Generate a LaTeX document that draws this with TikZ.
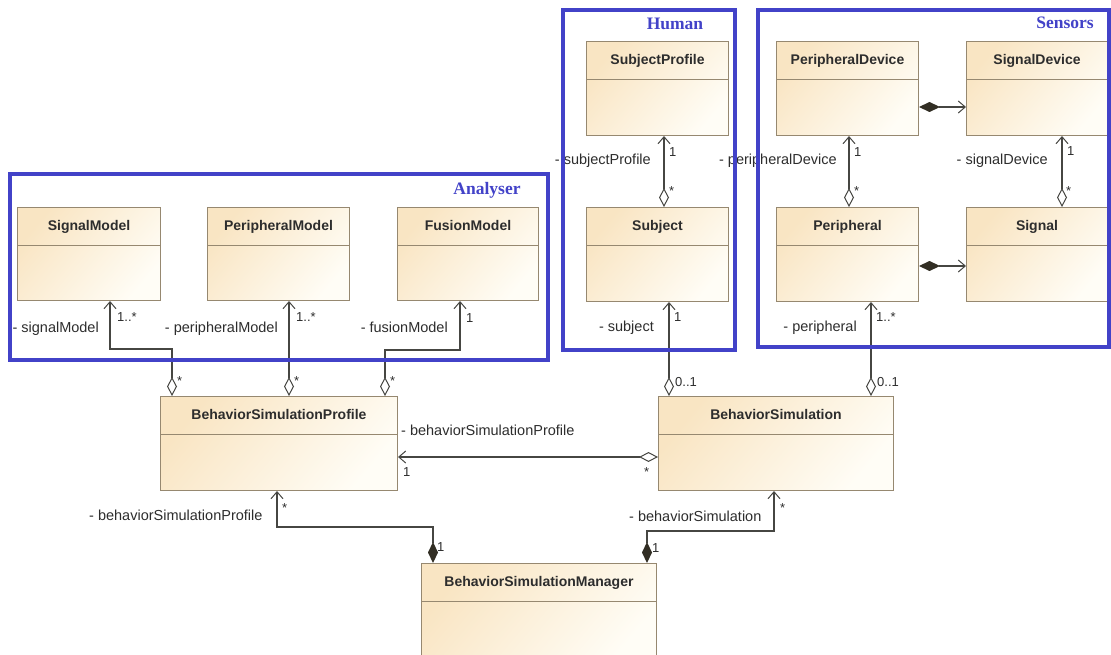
\documentclass[tikz,border=0pt]{standalone}
\usepackage{fontspec}
\setmainfont{Liberation Sans}
\newfontfamily\pkgfont{Liberation Serif}
\usetikzlibrary{arrows.meta,calc}
\definecolor{pkgblue}{RGB}{66,66,200}
\definecolor{boxtan}{RGB}{249,229,195}
\definecolor{boxlight}{RGB}{255,253,246}
\definecolor{boxedge}{RGB}{150,136,112}
\definecolor{lineclr}{RGB}{70,70,66}
\definecolor{txt}{RGB}{45,45,45}
\definecolor{compfill}{RGB}{50,46,36}
\newcommand\umlclass[6]{%
  \node[classbox, minimum width=#4pt, minimum height=#5pt] (#1) at (#2,#3) {};
  \node[classtitle, anchor=base] (#1-t) at ($(#1.north)+(0,23.5)$) {#6};
  \draw[divider] ($(#1.north west)+(0,38)$) -- ($(#1.north east)+(0,38)$);
}
\begin{document}
\begin{tikzpicture}[x=1pt,y=-1pt,
  pkg/.style={draw=pkgblue, line width=3.5pt},
  pkglabel/.style={text=pkgblue, font=\pkgfont\fontsize{17.5}{20}\selectfont\bfseries, inner sep=0},
  classbox/.style={draw=boxedge, line width=1pt, top color=boxtan, bottom color=boxlight, shading angle=50, inner sep=0, anchor=north west},
  classtitle/.style={font=\fontsize{14}{16}\selectfont\bfseries, text=txt, inner sep=0},
  divider/.style={draw=boxedge, line width=0.9pt},
  conn/.style={draw=lineclr, line width=1.1pt},
  agg/.style={conn, arrows={Diamond[length=19pt,width=10pt,fill=white,line width=1pt]-Straight Barb[length=7pt,width=12pt,line width=1pt]}},
  comp/.style={conn, arrows={Diamond[length=21pt,width=10pt,fill=compfill,color=compfill]-Straight Barb[length=7pt,width=12pt,line width=1pt]}},
  role/.style={font=\fontsize{14.5}{16}\selectfont, text=txt, inner sep=0},
  mult/.style={font=\fontsize{13}{15}\selectfont, text=txt, inner sep=0}
]
\useasboundingbox (0,0) rectangle (1111,655);
\clip (0,0) rectangle (1111,655);

% classes
\umlclass{sm}{17}{207}{143}{93}{SignalModel}
\umlclass{pm}{207}{207}{142}{93}{PeripheralModel}
\umlclass{fm}{397}{207}{141}{93}{FusionModel}
\umlclass{sp}{586}{41}{142}{94}{SubjectProfile}
\umlclass{sub}{586}{207}{142}{94}{Subject}
\umlclass{pd}{776}{41}{142}{94}{PeripheralDevice}
\umlclass{sd}{966}{41}{141}{94}{SignalDevice}
\umlclass{per}{776}{207}{142}{94}{Peripheral}
\umlclass{sig}{966}{207}{141}{94}{Signal}
\umlclass{bsp}{160}{396}{237}{94}{BehaviorSimulationProfile}
\umlclass{bs}{658}{396}{235}{94}{BehaviorSimulation}
\umlclass{bsm}{421}{563}{235}{100}{BehaviorSimulationManager}

% connectors
\draw[agg] ($(bsp.north west)+(12,0)$) -- ++(0,-47) -| ($(sm.south west)+(93,0)$);
\draw[agg] ($(bsp.north west)+(129,0)$) -- ($(pm.south west)+(82,0)$);
\draw[agg] ($(bsp.north west)+(225,0)$) -- ++(0,-46) -| ($(fm.south west)+(63,0)$);
\draw[agg] ($(bs.north west)+(11,0)$) -- ($(sub.south west)+(83,0)$);
\draw[agg] ($(bs.north west)+(213,0)$) -- ($(per.south west)+(95,0)$);
\draw[agg] ($(sub.north west)+(78,0)$) -- ($(sp.south west)+(78,0)$);
\draw[agg] ($(per.north west)+(73,0)$) -- ($(pd.south west)+(73,0)$);
\draw[agg] ($(sig.north west)+(96,0)$) -- ($(sd.south west)+(96,0)$);
\draw[comp] ($(pd.north east)+(0,66)$) -- ($(sd.north west)+(0,66)$);
\draw[comp] ($(per.north east)+(0,59)$) -- ($(sig.north west)+(0,59)$);
\draw[agg] ($(bs.north west)+(0,61)$) -- ($(bsp.north east)+(0,61)$);
\draw[comp] ($(bsm.north west)+(12,0)$) -- ++(0,-36) -| ($(bsp.south west)+(117,0)$);
\draw[comp] ($(bsm.north west)+(226,0)$) -- ++(0,-32) -| ($(bs.south west)+(116,0)$);

% role labels
\node[role, anchor=base east] (r1) at (99,332) {- signalModel};
\node[role, anchor=base east] (r2) at (278,332) {- peripheralModel};
\node[role, anchor=base east] (r3) at (448,332) {- fusionModel};
\node[role, anchor=base east] (r4) at (651,165) {- subjectProfile};
\node[role, anchor=base east] (r5) at (837,165) {- peripheralDevice};
\node[role, anchor=base east] (r6) at (1048,165) {- signalDevice};
\node[role, anchor=base east] (r7) at (654,331) {- subject};
\node[role, anchor=base east] (r8) at (857,331) {- peripheral};
\node[role, anchor=base west] (r9) at (401,435) {- behaviorSimulationProfile};
\node[role, anchor=base west] (r10) at (89,520) {- behaviorSimulationProfile};
\node[role, anchor=base west] (r11) at (629,521) {- behaviorSimulation};

% multiplicities
\node[mult, anchor=west] (m1) at (117,317) {1..*};
\node[mult, anchor=west] (m2) at (296,317) {1..*};
\node[mult, anchor=west] (m3) at (466,318) {1};
\node[mult, anchor=west] (m4) at (177,381) {*};
\node[mult, anchor=west] (m5) at (294,381) {*};
\node[mult, anchor=west] (m6) at (390,381) {*};
\node[mult, anchor=west] (m7) at (669,152) {1};
\node[mult, anchor=west] (m8) at (669,191) {*};
\node[mult, anchor=west] (m9) at (854,152) {1};
\node[mult, anchor=west] (m10) at (854,191) {*};
\node[mult, anchor=west] (m11) at (1067,151) {1};
\node[mult, anchor=west] (m12) at (1066,191) {*};
\node[mult, anchor=west] (m13) at (674,317) {1};
\node[mult, anchor=west] (m14) at (675,382) {0..1};
\node[mult, anchor=west] (m15) at (876,317) {1..*};
\node[mult, anchor=west] (m16) at (877,382) {0..1};
\node[mult, anchor=west] (m17) at (403,472) {1};
\node[mult, anchor=west] (m18) at (644,472) {*};
\node[mult, anchor=west] (m19) at (282,508) {*};
\node[mult, anchor=west] (m20) at (437,547) {1};
\node[mult, anchor=west] (m21) at (780,508) {*};
\node[mult, anchor=west] (m22) at (652,548) {1};

% packages (drawn on top)
\draw[pkg] (10,174) rectangle (548,360);
\draw[pkg] (563,10) rectangle (735,350);
\draw[pkg] (758,10) rectangle (1109,347);
\node[pkglabel] (lan) at (487,190) {Analyser};
\node[pkglabel] (lhu) at (675,24) {Human};
\node[pkglabel] (lse) at (1065,23) {Sensors};
\end{tikzpicture}
\end{document}
